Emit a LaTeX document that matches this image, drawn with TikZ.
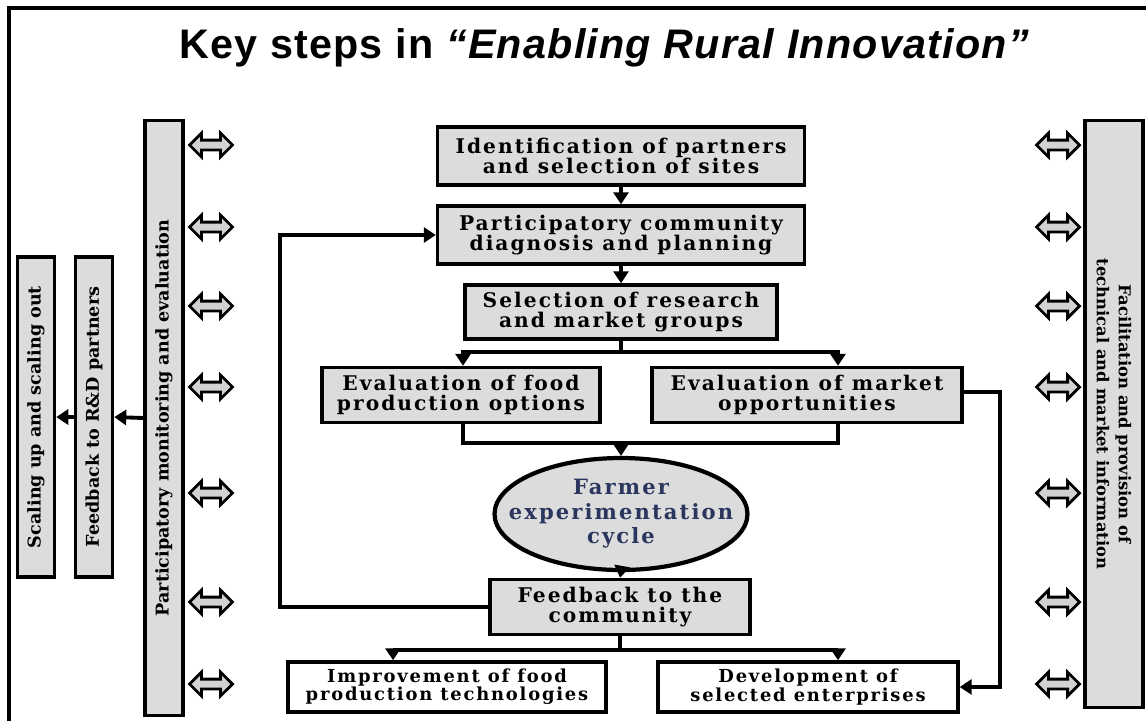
\documentclass[tikz,border=0pt]{standalone}
\usepackage{fontspec}
\usepackage{tikz}
\usetikzlibrary{shapes.geometric, shapes.arrows, arrows.meta, positioning}
\newfontfamily\titlefont{Liberation Sans}[LetterSpace=3.0]
\newfontfamily\boxfont{DejaVu Serif}[LetterSpace=10.0]
\newfontfamily\barfont{DejaVu Serif}
\definecolor{boxGray}{HTML}{DCDCDC}
\definecolor{arrGray}{HTML}{D2D2D2}
\definecolor{cycleNavy}{HTML}{2B365E}

\begin{document}
\begin{tikzpicture}[x=0.02cm, y=-0.02cm,
    stepbox/.style={rectangle, draw, line width=2pt, fill=boxGray, inner sep=0pt, align=center,
      font=\boxfont\bfseries\fontsize{11.5}{11.6}\selectfont},
    outbox/.style={stepbox, fill=white, font=\boxfont\bfseries\fontsize{10.2}{10.4}\selectfont},
    sidebar/.style={rectangle, draw, line width=2pt, fill=boxGray, inner sep=0pt, align=center,
      font=\barfont\bfseries\fontsize{10}{12.5}\selectfont},
    link/.style={-{Triangle[length=0.24cm, width=0.3cm]}, line width=2.2pt},
    joint/.style={line width=2.2pt},
    dblarr/.style={double arrow, draw, line width=1.6pt, fill=arrGray, inner sep=0.07cm,
      minimum height=0.86cm, double arrow head extend=0.14cm}
  ]
  \useasboundingbox (0,0) rectangle (1146,721);
  \draw[line width=1.9pt] (9,721) -- (9,8) -- (1146,8);
  \node[font=\titlefont\bfseries\fontsize{23.5}{28}\selectfont] (title) at (604,48)
    {Key steps in \itshape“Enabling Rural Innovation”};

  % side bars
  \node[sidebar, rotate=90, minimum width=11.9cm, minimum height=0.76cm] (pme) at (164,418)
    {Participatory monitoring and evaluation};
  \node[sidebar, rotate=90, minimum width=6.4cm, minimum height=0.74cm] (rnd) at (94,417)
    {Feedback to R\&D partners};
  \node[sidebar, rotate=90, minimum width=6.4cm, minimum height=0.74cm] (scale) at (36,417)
    {Scaling up and scaling out};
  \node[sidebar, rotate=-90, minimum width=11.74cm, minimum height=1.16cm,
    font=\barfont\bfseries\fontsize{9.3}{12.5}\selectfont] (facil) at (1114,414)
    {Facilitation and provision of\\technical and market information};
  \draw[link] (pme.north) -- (rnd.south);
  \draw[link] (rnd.north) -- (scale.south);

  % two way links to the side bars
  \foreach \y in {145,227,306,387,493,602,684} {
    \node[dblarr] (l\y) at (211,\y) {};
    \node[dblarr] (r\y) at (1058,\y) {};
  }

  % main steps
  \node[stepbox, minimum width=7.34cm, minimum height=1.16cm] (ident) at (621,156)
    {Identification of partners\\and selection of sites};
  \node[stepbox, minimum width=7.34cm, minimum height=1.16cm] (diag) at (621,235)
    {Participatory community\\diagnosis and planning};
  \node[stepbox, minimum width=6.24cm, minimum height=1.08cm] (groups) at (621,312)
    {Selection of research\\and market groups};
  \node[stepbox, minimum width=5.56cm, minimum height=1.1cm] (evfood) at (461,395)
    {Evaluation of food\\production options};
  \node[stepbox, minimum width=6.2cm, minimum height=1.1cm] (evmkt) at (807,395)
    {Evaluation of market\\opportunities};
  \node[ellipse, draw, line width=2.4pt, fill=boxGray, inner sep=0pt,
    minimum width=5.06cm, minimum height=2.24cm] (farmer) at (621,514) {};
  \node[font=\boxfont\bfseries\fontsize{12}{14}\selectfont, text=cycleNavy, align=center]
    (cycletxt) at (farmer) {Farmer\\experimentation\\cycle};
  \node[stepbox, minimum width=5.2cm, minimum height=1.1cm] (fbcom) at (620,607)
    {Feedback to the\\community};
  \node[outbox, minimum width=6.36cm, minimum height=1.0cm] (improve) at (447,687)
    {Improvement of food\\production technologies};
  \node[outbox, minimum width=6.0cm, minimum height=1.0cm] (develop) at (808,687)
    {Development of\\selected enterprises};

  \coordinate (split) at (621,352);
  \coordinate (merge) at (621,443);
  \coordinate (split2) at (620,650);
  \coordinate (loop) at (280,607);
  \coordinate (mkside) at (1000,392);

  \draw[link] (ident) -- (diag);
  \draw[link] (diag) -- (groups);
  \draw[joint] (groups.south) -- (split);
  \draw[link] (split) -| ([xshift=0.04cm]evfood.north);
  \draw[link] (split) -| ([xshift=0.62cm]evmkt.north);
  \draw[joint] ([xshift=0.04cm]evfood.south) |- (merge) -| ([xshift=0.62cm]evmkt.south);
  \draw[link] (merge) -- (farmer.north);
  \draw[link] (farmer.south) -- (fbcom.north);
  \draw[link] (fbcom.west) -- (loop) |- (diag.west);
  \draw[joint] (fbcom.south) -- (split2);
  \draw[link] (split2) -| ([xshift=-1.08cm]improve.north);
  \draw[link] (split2) -| ([xshift=0.6cm]develop.north);
  \draw[link] (evmkt.east |- mkside) -- (mkside) |- (develop.east);
\end{tikzpicture}
\end{document}
